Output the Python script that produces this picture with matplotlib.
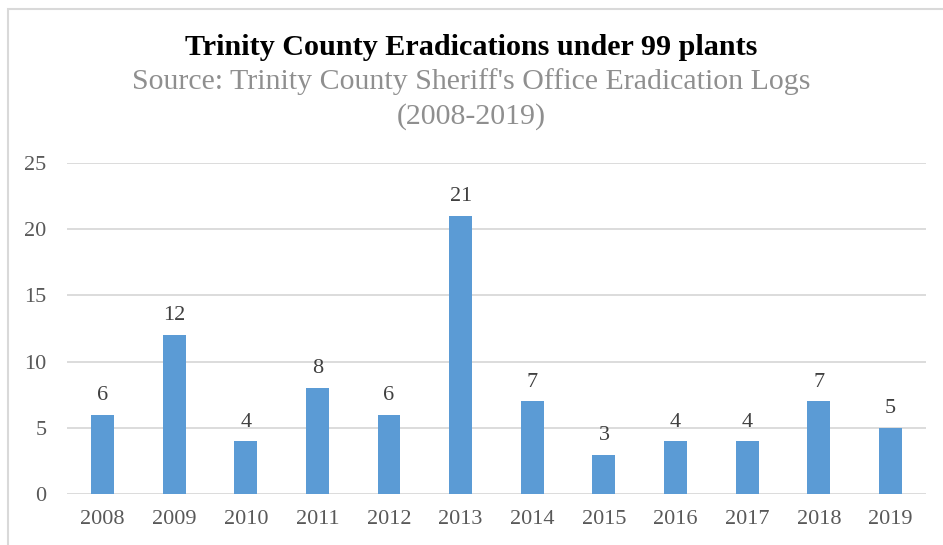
import matplotlib.pyplot as plt
from matplotlib.patches import Rectangle

years = ["2008", "2009", "2010", "2011", "2012", "2013",
         "2014", "2015", "2016", "2017", "2018", "2019"]
counts = [6, 12, 4, 8, 6, 21, 7, 3, 4, 4, 7, 5]
y_ticks = [0, 5, 10, 15, 20, 25]

plt.rcParams["font.family"] = ["Liberation Serif", "DejaVu Serif"]

fig = plt.figure(figsize=(9.43, 5.45), dpi=100)
ax = fig.add_axes([0.0707, 0.093, 0.9116, 0.6084])

x = range(len(years))
bars = ax.bar(x, counts, width=0.32, color="#5B9BD5", zorder=3)

for b, v in zip(bars, counts):
    ax.annotate(str(v), (b.get_x() + b.get_width() / 2, v),
                xytext=(0, 7), textcoords="offset points",
                ha="center", va="bottom", fontsize=16, color="#404040")

ax.set_xlim(-0.5, len(years) - 0.5)
ax.set_ylim(0, 25)
ax.set_yticks(y_ticks)
ax.set_xticks(list(x))
ax.set_xticklabels(years)
ax.tick_params(axis="both", length=0, labelsize=16, colors="#595959")
ax.tick_params(axis="y", pad=14.5)
ax.tick_params(axis="x", pad=11)
ax.grid(axis="y", color="#D9D9D9", linewidth=1.3, zorder=0)
for s in ax.spines.values():
    s.set_visible(False)

fig.text(0.5, 1 - 55 / 545, "Trinity County Eradications under 99 plants",
         ha="center", va="baseline", fontsize=21.7, fontweight="bold", color="black")
fig.text(0.5, 1 - 89 / 545, "Source: Trinity County Sheriff's Office Eradication Logs",
         ha="center", va="baseline", fontsize=21.5, color="#8F8F8F")
fig.text(0.5, 1 - 124 / 545, "(2008-2019)",
         ha="center", va="baseline", fontsize=21.5, color="#8F8F8F")

# outer chart frame (cut off on the right and bottom)
fig.patches.append(Rectangle((8 / 943, -0.1), 1.2, 1.1 - 9 / 545,
                             transform=fig.transFigure, fill=False,
                             edgecolor="#D9D9D9", linewidth=1.5))

fig.savefig("out.png", dpi=100)
